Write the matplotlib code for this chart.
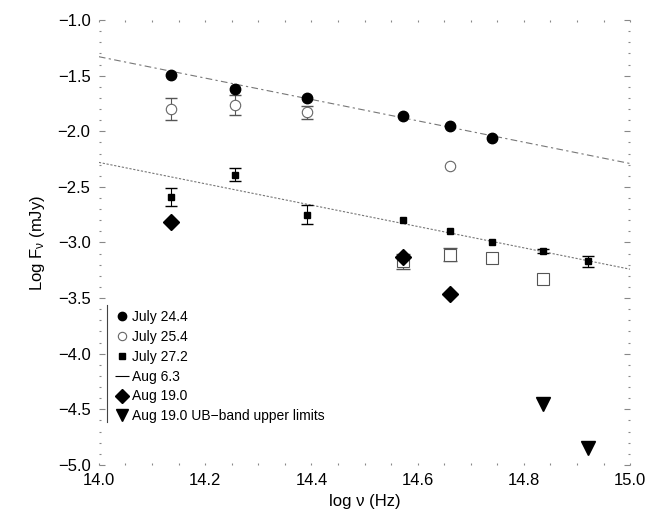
import matplotlib.pyplot as plt
from matplotlib.lines import Line2D
import numpy as np

plt.rcParams['font.family'] = ['Liberation Sans', 'DejaVu Sans']
plt.rcParams['mathtext.default'] = 'regular'

# band frequencies, log nu (Hz)
nu_k, nu_h, nu_j, nu_i, nu_r, nu_v, nu_b, nu_u = 14.136, 14.256, 14.392, 14.573, 14.661, 14.740, 14.836, 14.921

jul24_x = [nu_k, nu_h, nu_j, nu_i, nu_r, nu_v]
jul24_y = [-1.49, -1.62, -1.70, -1.865, -1.95, -2.06]

jul25_x = [nu_k, nu_h, nu_j, nu_r]
jul25_y = [-1.80, -1.76, -1.83, -2.31]
jul25_err = [0.10, 0.09, 0.06, 0.0]

jul27_x = [nu_k, nu_h, nu_j, nu_i, nu_r, nu_v, nu_b, nu_u]
jul27_y = [-2.59, -2.39, -2.75, -2.80, -2.90, -3.00, -3.075, -3.17]
jul27_err = [0.08, 0.06, 0.085, 0.0, 0.0, 0.0, 0.02, 0.05]

aug06_x = [nu_i, nu_r, nu_v, nu_b]
aug06_y = [-3.17, -3.11, -3.14, -3.33]
aug06_err = [0.07, 0.06, 0.0, 0.0]

aug19_x = [nu_k, nu_i, nu_r]
aug19_y = [-2.82, -3.13, -3.46]

ulim_x = [nu_b, nu_u]
ulim_y = [-4.45, -4.85]

# power-law fits
fit_x = [14.0, 15.0]
fit_hi = [-1.33, -2.29]
fit_lo = [-2.28, -3.24]


def with_err(x, y, e):
    keep = [i for i in range(len(x)) if e[i] > 0]
    return [x[i] for i in keep], [y[i] for i in keep], [e[i] for i in keep]


fig = plt.figure(figsize=(6.55, 5.17), dpi=100)
ax = fig.add_axes([0.151, 0.1006, 0.811, 0.8607])

ax.plot(fit_x, fit_hi, color='#777777', lw=0.8, ls=(0, (6, 3, 2, 3)), zorder=1)
ax.plot(fit_x, fit_lo, color='#777777', lw=0.8, ls=(0, (2, 1.5)), zorder=1)

ex, ey, ee = with_err(jul25_x, jul25_y, jul25_err)
ax.errorbar(ex, ey, yerr=ee, fmt='none', ecolor='#555555', elinewidth=0.8,
            capsize=4.5, zorder=2)
ax.plot(jul25_x, jul25_y, 'o', ms=7.5, mfc='white', mec='#666666', mew=0.8, zorder=2)

ex, ey, ee = with_err(jul27_x, jul27_y, jul27_err)
ax.errorbar(ex, ey, yerr=ee, fmt='none', ecolor='black', elinewidth=0.8,
            capsize=4.5, zorder=3)
ax.plot(jul27_x, jul27_y, 's', ms=5, color='black', zorder=3)

ex, ey, ee = with_err(aug06_x, aug06_y, aug06_err)
ax.errorbar(ex, ey, yerr=ee, fmt='none', ecolor='#555555', elinewidth=0.8,
            capsize=5, zorder=2)
ax.plot(aug06_x, aug06_y, 's', ms=9, mfc='white', mec='#555555', mew=0.8, zorder=2)

ax.plot(aug19_x, aug19_y, 'D', ms=8, color='black', zorder=4)
ax.plot(jul24_x, jul24_y, 'o', ms=7.5, color='black', zorder=4)
ax.plot(ulim_x, ulim_y, 'v', ms=10, color='black', zorder=4)

ax.set_xlim(14.0, 15.0)
ax.set_ylim(-5.0, -1.0)
ax.set_xticks(np.arange(14.0, 15.01, 0.2))
ax.set_yticks(np.arange(-5.0, -0.99, 0.5))
ax.set_xticks(np.arange(14.0, 15.01, 0.05), minor=True)
ax.set_yticks(np.arange(-5.0, -0.99, 0.1), minor=True)
fmt = plt.FuncFormatter(lambda v, p: ('%.1f' % v).replace('-', '\u2212'))
ax.xaxis.set_major_formatter(fmt)
ax.yaxis.set_major_formatter(fmt)
for s in ax.spines.values():
    s.set_visible(False)
ax.tick_params(axis='both', which='both', direction='in', top=True, right=True,
               color='#888888', labelsize=12, pad=6)
ax.tick_params(axis='y', which='major', length=4, width=0.8)
ax.tick_params(axis='y', which='minor', length=1.2, width=0.8)
ax.tick_params(axis='x', which='major', length=1.2, width=0.8)
ax.tick_params(axis='x', which='minor', length=1.2, width=0.8)

ax.set_xlabel('log ν (Hz)', fontsize=12, labelpad=4)
ax.set_ylabel('Log F$_ν$ (mJy)', fontsize=12, labelpad=8)

handles = [
    Line2D([], [], ls='none', marker='o', ms=6, color='black'),
    Line2D([], [], ls='none', marker='o', ms=6, mfc='white', mec='#666666', mew=0.8),
    Line2D([], [], ls='none', marker='s', ms=5, color='black'),
    Line2D([], [], ls='none', marker='_', ms=10, color='black', mew=0.8),
    Line2D([], [], ls='none', marker='D', ms=7, color='black'),
    Line2D([], [], ls='none', marker='v', ms=9, color='black'),
]
labels = ['July 24.4', 'July 25.4', 'July 27.2', 'Aug 6.3', 'Aug 19.0',
          'Aug 19.0 UB\u2212band upper limits']
ax.legend(handles, labels, loc='upper left', bbox_to_anchor=(0.015, 0.37),
          frameon=False, fontsize=10, handlelength=0.8, handletextpad=0.3,
          labelspacing=0.42, borderpad=0.2)
ax.plot([0.016, 0.016], [0.097, 0.36], transform=ax.transAxes, color='#444444',
        lw=0.8, clip_on=False)

fig.savefig('out.png', dpi=100)
